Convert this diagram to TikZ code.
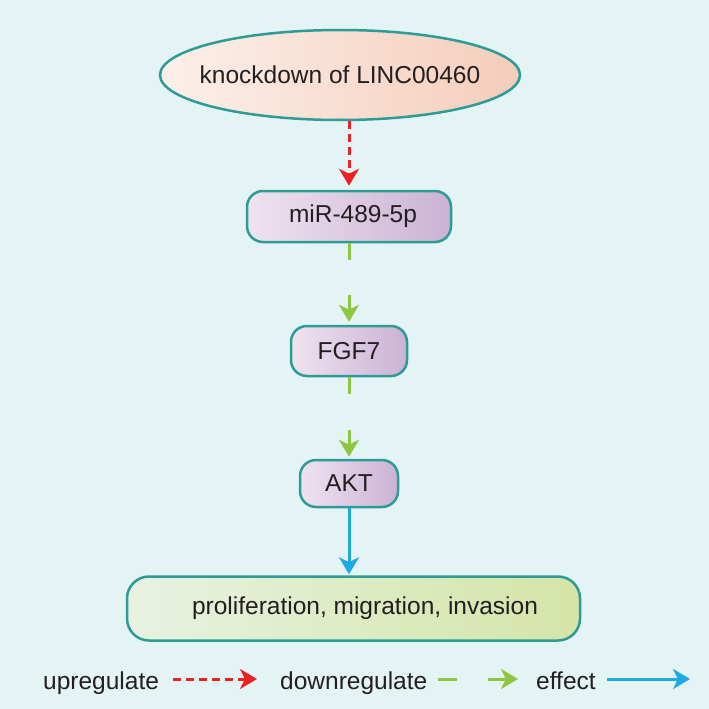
\documentclass[tikz,border=0pt]{standalone}
\usepackage{fontspec}
\setmainfont{Liberation Sans}
\usetikzlibrary{arrows.meta,shapes.geometric,calc}
\definecolor{bgc}{HTML}{E4F4F4}
\definecolor{edgecol}{HTML}{2E9C96}
\definecolor{el}{HTML}{FCF0EA}
\definecolor{er}{HTML}{F5CDBA}
\definecolor{pl}{HTML}{EEE3EF}
\definecolor{pr}{HTML}{CBB2D5}
\definecolor{gl}{HTML}{E8F2E2}
\definecolor{gr}{HTML}{D5E4A6}
\definecolor{redc}{HTML}{ED2024}
\definecolor{greenc}{HTML}{8DC63F}
\definecolor{bluec}{HTML}{1CA9E6}
\definecolor{txt}{HTML}{231F20}
\begin{document}
\begin{tikzpicture}[x=1pt,y=-1pt,
  every node/.style={font=\fontsize{24.5}{29}\selectfont, text=txt},
  box/.style={draw=edgecol, line width=2.5pt, rounded corners=16pt, inner sep=0pt},
  purp/.style={box, left color=pl, right color=pr},
  tip/.style={-{Stealth[length=17pt,width=20pt,inset=5pt]}},
  upar/.style={draw=redc, line width=3pt, dash pattern=on 8pt off 5pt, tip},
  downline/.style={draw=greenc, line width=3pt},
  downar/.style={draw=greenc, line width=3pt, tip},
  effar/.style={draw=bluec, line width=3pt, tip},
  legtext/.style={anchor=base west, inner sep=0pt}
]
\fill[bgc] (0,0) rectangle (709,709);

\node[ellipse, draw=edgecol, line width=2.5pt, left color=el, right color=er,
      minimum width=360pt, minimum height=90pt, inner sep=0pt] (ko) at (340,75) {\makebox[0pt]{knockdown of LINC00460}};
\node[purp, minimum width=204pt, minimum height=51pt] (mir) at (349,216.5) {\hspace*{8pt}miR-489-5p};
\node[purp, minimum width=116pt, minimum height=50pt] (fgf) at (349,351) {FGF7};
\node[purp, minimum width=98pt, minimum height=47pt] (akt) at (349,483.5) {AKT};
\node[box, rounded corners=22pt, left color=gl, right color=gr,
      minimum width=453pt, minimum height=64pt] (out) at (353.5,608.5) {\hspace*{23pt}proliferation, migration, invasion};

\draw[upar, shorten >=4pt] (ko.south -| mir.north) -- (mir.north);

\coordinate (g1) at (349,260);
\coordinate (g2) at (349,295);
\draw[downline] (mir.south) -- (g1);
\draw[downar, shorten >=3pt] (g2) -- (fgf.north);

\coordinate (g3) at (349,394);
\coordinate (g4) at (349,430);
\draw[downline] (fgf.south) -- (g3);
\draw[downar, shorten >=2pt] (g4) -- (akt.north);

\draw[effar, shorten >=1pt] (akt.south) -- (akt.south |- out.north);

% legend
\node[legtext] (lup) at (43,689) {upregulate};
\node[legtext] (ldown) at (280,689) {downregulate};
\node[legtext] (leff) at (536,689) {effect};
\coordinate (a1) at (173,679);
\coordinate (a2) at (257,679);
\coordinate (b1) at (438,679);
\coordinate (b2) at (457,679);
\coordinate (c1) at (488,679);
\coordinate (c2) at (518,679);
\coordinate (d1) at (607,679);
\coordinate (d2) at (690,679);
\draw[upar] (a1) -- (a2);
\draw[downline] (b1) -- (b2);
\draw[downar] (c1) -- (c2);
\draw[effar] (d1) -- (d2);
\end{tikzpicture}
\end{document}
